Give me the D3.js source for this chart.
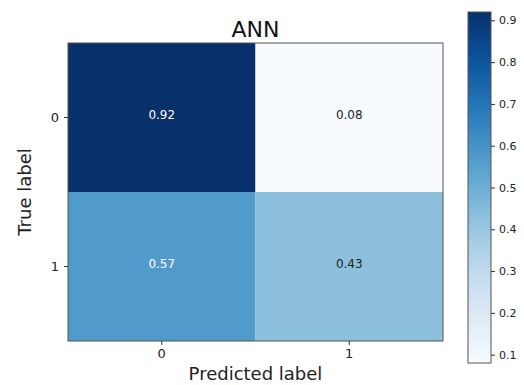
<!DOCTYPE html>
<html><head><meta charset="utf-8">
<script src="https://cdn.jsdelivr.net/npm/d3@7"></script>
<style>body{margin:0;background:#fff}svg{display:block}text{font-family:"DejaVu Sans",sans-serif}</style>
</head><body>
<script>
const title = "ANN";
const trueLabels = ["0", "1"];
const predLabels = ["0", "1"];
const matrix = [[0.92, 0.08], [0.57, 0.43]];
const cbTicks = [0.1, 0.2, 0.3, 0.4, 0.5, 0.6, 0.7, 0.8, 0.9];
const vmin = 0.08, vmax = 0.92;

const W = 524, H = 385;
const svg = d3.select("body").append("svg").attr("width", W).attr("height", H);
const L = 68, R = 443, T = 43, B = 341;
const x = d3.scaleBand().domain(predLabels).range([L, R]);
const y = d3.scaleBand().domain(trueLabels).range([T, B]);
const color = d3.scaleSequential(d3.interpolateBlues).domain([vmin, vmax]);

const cells = [];
matrix.forEach((row, i) => row.forEach((v, j) => cells.push({r: trueLabels[i], c: predLabels[j], v})));
svg.selectAll("rect.cell").data(cells).join("rect").attr("class", "cell")
  .attr("x", d => x(d.c)).attr("y", d => y(d.r))
  .attr("width", x.bandwidth()).attr("height", y.bandwidth())
  .attr("fill", d => color(d.v));
svg.selectAll("text.val").data(cells).join("text").attr("class", "val")
  .attr("x", d => x(d.c) + x.bandwidth() / 2).attr("y", d => y(d.r) + y.bandwidth() / 2 - 3)
  .attr("text-anchor", "middle").attr("dominant-baseline", "central")
  .attr("font-size", 12).attr("fill", d => d.v > 0.5 ? "#fff" : "#222")
  .text(d => d.v.toFixed(2));
svg.append("rect").attr("x", L).attr("y", T).attr("width", R - L).attr("height", B - T)
  .attr("fill", "none").attr("stroke", "#555").attr("stroke-width", 1);

const xa = svg.append("g").attr("transform", `translate(0,${B})`)
  .call(d3.axisBottom(x).tickSize(4).tickPadding(4));
const ya = svg.append("g").attr("transform", `translate(${L},0)`)
  .call(d3.axisLeft(y).tickSize(4).tickPadding(5));
[xa, ya].forEach(a => {
  a.select(".domain").remove();
  a.selectAll("line").attr("stroke", "#333");
  a.selectAll("text").attr("font-size", 13).attr("fill", "#222").attr("font-family", "DejaVu Sans");
});

svg.append("text").attr("x", (L + R) / 2).attr("y", 37).attr("text-anchor", "middle")
  .attr("font-size", 22).attr("fill", "#111").text(title);
svg.append("text").attr("x", (L + R) / 2).attr("y", 380).attr("text-anchor", "middle")
  .attr("font-size", 18).attr("fill", "#222").text("Predicted label");
svg.append("text").attr("transform", `translate(31,${(T + B) / 2}) rotate(-90)`).attr("text-anchor", "middle")
  .attr("font-size", 18).attr("fill", "#222").text("True label");

// colorbar
const cbX = 468, cbW = 23, cbT = 12, cbB = 363;
const cy = d3.scaleLinear().domain([vmin, vmax]).range([cbB, cbT]);
const defs = svg.append("defs");
const grad = defs.append("linearGradient").attr("id", "cb").attr("x1", 0).attr("y1", 1).attr("x2", 0).attr("y2", 0);
d3.range(0, 1.0001, 0.05).forEach(t => grad.append("stop").attr("offset", t).attr("stop-color", d3.interpolateBlues(t)));
svg.append("rect").attr("x", cbX).attr("y", cbT).attr("width", cbW).attr("height", cbB - cbT)
  .attr("fill", "url(#cb)").attr("stroke", "#555").attr("stroke-width", 1);
const ca = svg.append("g").attr("transform", `translate(${cbX + cbW},0)`)
  .call(d3.axisRight(cy).tickValues(cbTicks).tickFormat(d3.format(".1f")).tickSize(4).tickPadding(4));
ca.select(".domain").remove();
ca.selectAll("line").attr("stroke", "#333");
ca.selectAll("text").attr("font-size", 11).attr("fill", "#222").attr("font-family", "DejaVu Sans");
</script>
</body></html>
